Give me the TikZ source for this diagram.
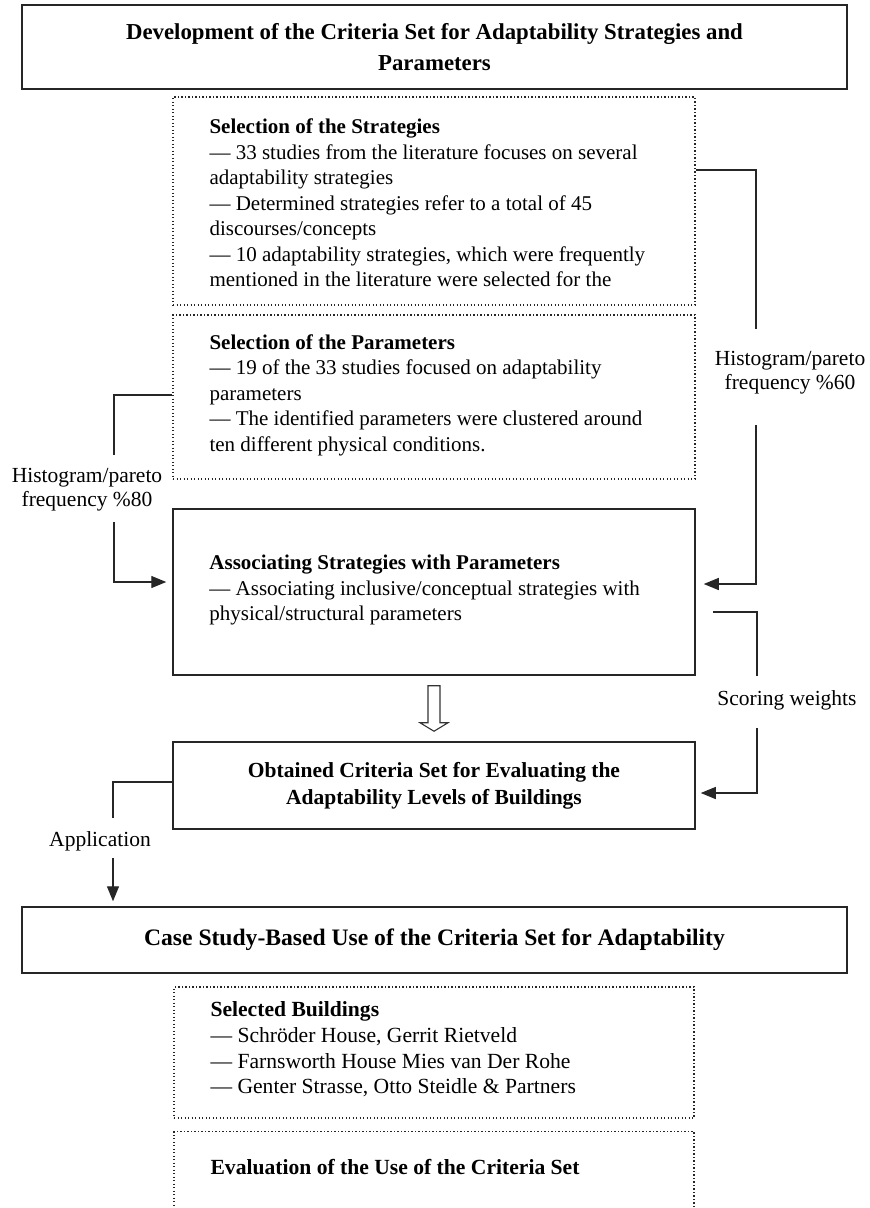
\documentclass[tikz,border=0pt]{standalone}
\usepackage{fontspec}
\setmainfont{Liberation Serif}
\usetikzlibrary{arrows.meta,calc}
\begin{document}
\begin{tikzpicture}[x=1pt,y=-1pt,
  solidbox/.style={draw=black!85, line width=1.5pt, rectangle, inner sep=0pt},
  dotbox/.style={draw=black!85, line width=1.3pt, dash pattern=on 1.2pt off 2.3pt, rectangle, inner sep=0pt},
  body/.style={font=\fontsize{21}{25.5}\selectfont, align=left, inner sep=0pt, text=black},
  bodyL/.style={font=\fontsize{21.6}{25.6}\selectfont, align=left, inner sep=0pt, text=black},
  headtxt/.style={font=\bfseries\fontsize{22.8}{31.5}\selectfont, align=center, text=black},
  lab/.style={font=\fontsize{21.5}{24}\selectfont, align=center, inner sep=0pt, text=black},
  conn/.style={draw=black!85, line width=1.3pt},
  arr/.style={-{Triangle[length=15pt,width=12pt]}},
]
\clip (0,0) rectangle (870,1208);
\fill[white] (0,0) rectangle (870,1208);

% title
\node[solidbox, headtxt, minimum width=825pt, minimum height=84pt] (title) at (434.5,47)
  {Development of the Criteria Set for Adaptability Strategies and\\Parameters};

% strategies
\node[dotbox, minimum width=522pt, minimum height=208pt] (strat) at (434,201) {};
\node[body, anchor=west] (stratT) at ($(strat.west)+(37,2)$)
  {\textbf{Selection of the Strategies}\\
   --- 33 studies from the literature focuses on several\\
   adaptability strategies\\
   --- Determined strategies refer to a total of 45\\
   discourses/concepts\\
   --- 10 adaptability strategies, which were frequently\\
   mentioned in the literature were selected for the};

% parameters
\node[dotbox, minimum width=522pt, minimum height=164pt] (param) at (434,397) {};
\node[body, anchor=west] (paramT) at ($(param.west)+(37,-2)$)
  {\textbf{Selection of the Parameters}\\
   --- 19 of the 33 studies focused on adaptability\\
   parameters\\
   --- The identified parameters were clustered around\\
   ten different physical conditions.};

% associating
\node[solidbox, minimum width=522pt, minimum height=166pt] (assoc) at (434,592) {};
\node[body, anchor=west] (assocT) at ($(assoc.west)+(37,-2)$)
  {\textbf{Associating Strategies with Parameters}\\
   --- Associating inclusive/conceptual strategies with\\
   physical/structural parameters};

% obtained
\node[solidbox, minimum width=522pt, minimum height=87pt,
      font=\bfseries\fontsize{21.5}{27}\selectfont, align=center, text=black] (obt) at (434,785.5)
  {Obtained Criteria Set for Evaluating the\\Adaptability Levels of Buildings};

% hollow arrow
\draw[line width=1.1pt, draw=black!80, fill=white]
  ($(assoc.south)+(-6,10)$) -- ($(assoc.south)+(6,10)$) -- ($(assoc.south)+(6,47)$)
  -- ($(assoc.south)+(14,47)$) -- ($(obt.north)+(0,-10)$) -- ($(assoc.south)+(-14,47)$)
  -- ($(assoc.south)+(-6,47)$) -- cycle;

% case study
\node[solidbox, minimum width=825pt, minimum height=66pt,
      font=\bfseries\fontsize{23.6}{28}\selectfont, text=black] (case) at (434.5,940)
  {Case Study-Based Use of the Criteria Set for Adaptability};

% selected buildings
\node[dotbox, minimum width=520pt, minimum height=131pt] (sel) at (434,1052.5) {};
\node[bodyL, anchor=west] (selT) at ($(sel.west)+(37,-3)$)
  {\textbf{Selected Buildings}\\
   --- Schröder House, Gerrit Rietveld\\
   --- Farnsworth House Mies van Der Rohe\\
   --- Genter Strasse, Otto Steidle \& Partners};

% evaluation (cut off at the bottom)
\node[dotbox, minimum width=520pt, minimum height=140pt, anchor=north] (eval) at (434,1131) {};
\node[bodyL, anchor=west] (evalT) at ($(eval.north west)+(37,36)$)
  {\textbf{Evaluation of the Use of the Criteria Set}};

% labels
\node[lab] (lab60) at (790,373) {Histogram/pareto\\frequency \%60};
\node[lab] (lab80) at (87,490) {Histogram/pareto\\frequency \%80};
\node[lab] (labsw) at (787,700) {Scoring weights};
\node[lab] (labapp) at (100,841) {Application};

% connectors
\draw[conn] (strat.east |- 0,170) -| (756,329);
\draw[conn,arr] (756,425) |- ([xshift=8pt]assoc.east |- 0,584);

\draw[conn] (param.west |- 0,395) -| (114,455);
\draw[conn,arr] (114,522) |- ([xshift=-6pt]assoc.west |- 0,582);

\coordinate (sw0) at ([xshift=17pt]assoc.east |- 0,612);
\draw[conn] (sw0) -| (757,676);
\draw[conn,arr] (757,728) |- ([xshift=5pt]obt.east |- 0,793);

\draw[conn] (obt.west |- 0,782) -| (113,818);
\draw[conn,arr] (113,858) -- ([yshift=5pt]case.north -| 113,0);
\end{tikzpicture}
\end{document}
